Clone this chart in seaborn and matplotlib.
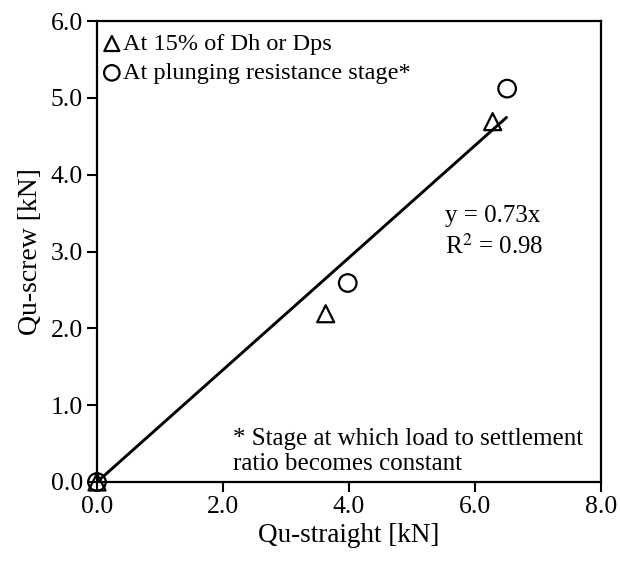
import matplotlib
matplotlib.use("Agg")
import matplotlib.pyplot as plt
import seaborn as sns
import pandas as pd

# Data
tri_x = [0.0, 3.63, 6.28]
tri_y = [0.0, 2.19, 4.69]
circ_x = [0.0, 3.98, 6.51]
circ_y = [0.0, 2.59, 5.12]
fit_x = [0.0, 6.5]
slope = 0.73
fit_y = [slope * v for v in fit_x]
x_ticks = [0.0, 2.0, 4.0, 6.0, 8.0]
y_ticks = [0.0, 1.0, 2.0, 3.0, 4.0, 5.0, 6.0]

sns.set_style("white")
plt.rcParams['font.family'] = ['Liberation Serif', 'DejaVu Serif']
plt.rcParams['mathtext.fontset'] = 'stix'
plt.rcParams['text.color'] = 'black'
plt.rcParams['axes.labelcolor'] = 'black'

fig = plt.figure(figsize=(6.2, 5.64), dpi=100)
ax = fig.add_axes([97/620, 1-482/564, (601-97)/620, (482-21)/564])

df_t = pd.DataFrame({"x": tri_x, "y": tri_y})
df_c = pd.DataFrame({"x": circ_x, "y": circ_y})
df_f = pd.DataFrame({"x": fit_x, "y": fit_y})

sns.lineplot(data=df_f, x="x", y="y", ax=ax, color="black", linewidth=2.1, zorder=2)
sns.scatterplot(data=df_t, x="x", y="y", ax=ax, marker="^", s=150,
                facecolor="none", edgecolor="black", linewidth=1.6,
                label="At 15% of Dh or Dps", zorder=3, clip_on=False)
sns.scatterplot(data=df_c, x="x", y="y", ax=ax, marker="o", s=160,
                facecolor="none", edgecolor="black", linewidth=1.6,
                label="At plunging resistance stage*", zorder=3, clip_on=False)

ax.set_xlim(0, 8)
ax.set_ylim(0, 6)
ax.set_xticks(x_ticks)
ax.set_yticks(y_ticks)
ax.set_xticklabels([f"{v:.1f}" for v in x_ticks])
ax.set_yticklabels([f"{v:.1f}" for v in y_ticks])
ax.tick_params(axis="both", direction="out", length=7, width=1.5,
               labelsize=18.5, colors="black", labelcolor="black",
               bottom=True, left=True, pad=3)
for sp in ax.spines.values():
    sp.set_color("black")
    sp.set_linewidth(1.6)

ax.set_xlabel("Qu-straight [kN]", fontsize=19.5, labelpad=4, color="black")
ax.set_ylabel("Qu-screw [kN]", fontsize=20, labelpad=6, color="black")

leg = ax.legend(loc="upper left", bbox_to_anchor=(-0.014, 0.99), frameon=False,
                fontsize=17.5, markerscale=0.88,
                handletextpad=-0.15, borderaxespad=0.0, labelspacing=0.3,
                handlelength=1.2, borderpad=0.3)
for t in leg.get_texts():
    t.set_color("black")

ax.text(0.69, 0.484, "y = 0.73x\nR$^2$ = 0.98", transform=ax.transAxes,
        fontsize=18, va="bottom", ha="left", linespacing=1.35, color="black")
ax.text(0.27, 0.015, "* Stage at which load to settlement\nratio becomes constant",
        transform=ax.transAxes, fontsize=18, va="bottom", ha="left",
        linespacing=1.2, color="black")

fig.savefig("out.png", dpi=100)
